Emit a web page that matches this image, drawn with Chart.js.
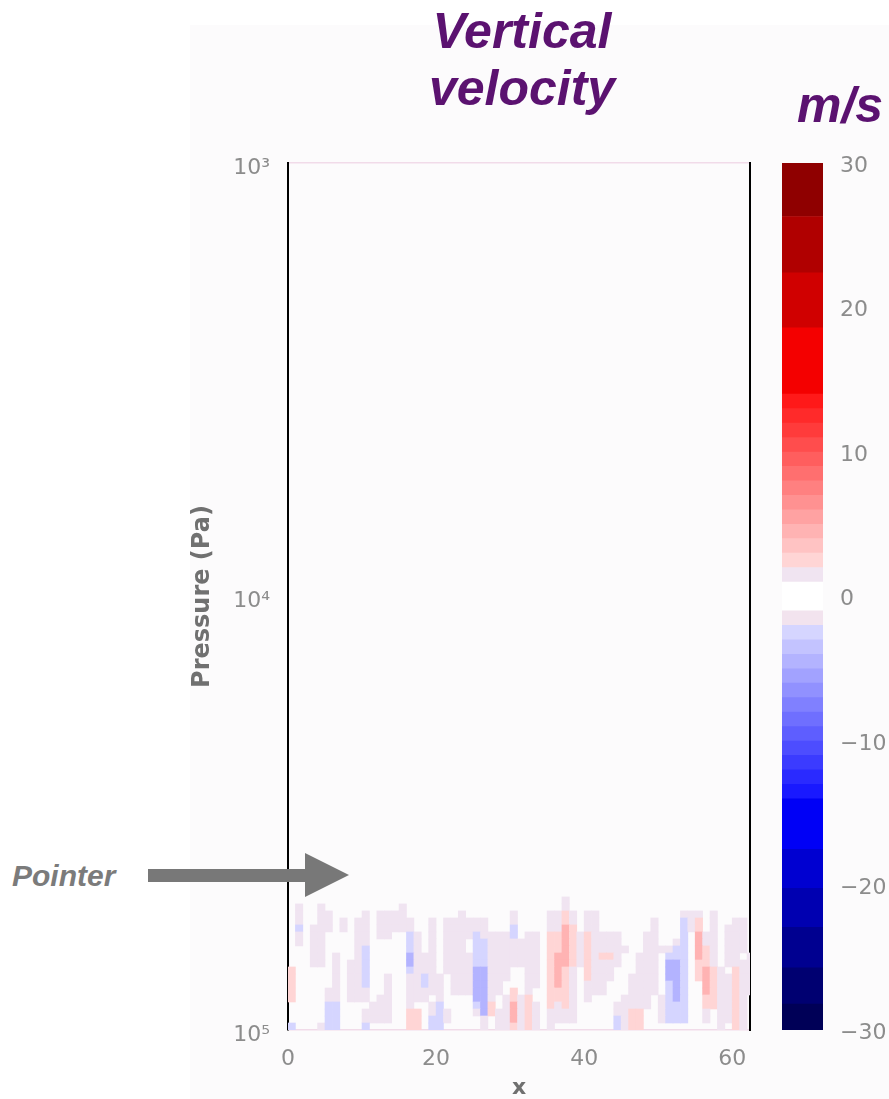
<!DOCTYPE html>
<html>
<head>
<meta charset="utf-8">
<script src="https://cdn.jsdelivr.net/npm/chart.js@4.4.0/dist/chart.umd.min.js"></script>
<style>
  html, body { margin: 0; padding: 0; background: #fff; }
  body { width: 889px; height: 1099px; position: relative; overflow: hidden; font-family: "Liberation Sans", Arial, sans-serif; }
  #figbg { position: absolute; left: 190px; top: 25px; width: 699px; height: 1074px; background: #fcfbfc; }
  .big { position: absolute; color: #5b1270; font-weight: bold; font-style: italic; font-size: 50px; line-height: 57px; white-space: nowrap; }
  #pointer { position: absolute; left: 12px; top: 861px; color: #7b7b7b; font-weight: bold; font-style: italic; font-size: 30px; line-height: 30px; }
  canvas { position: absolute; }
</style>
</head>
<body>
<div id="figbg"></div>
<div class="big" style="left:297px; top:3px; width:450px; text-align:center;">Vertical<br>velocity</div>
<div class="big" style="left:797px; top:77px;">m/s</div>
<canvas id="main" width="600" height="959" style="left:180px; top:140px;"></canvas>
<canvas id="cbar" width="129" height="959" style="left:760px; top:140px;"></canvas>
<div id="pointer">Pointer</div>
<svg style="position:absolute; left:0; top:0;" width="889" height="1099">
  <rect x="148" y="869" width="158" height="13" fill="#787878"/>
  <polygon points="305,853 349,875 305,897" fill="#787878"/>
</svg>
<script>
// x positions of the grid columns (cell centres)
var xCells = [0.5, 1.5, 2.5, 3.5, 4.5, 5.5, 6.5, 7.5, 8.5, 9.5,
  10.5, 11.5, 12.5, 13.5, 14.5, 15.5, 16.5, 17.5, 18.5, 19.5,
  20.5, 21.5, 22.5, 23.5, 24.5, 25.5, 26.5, 27.5, 28.5, 29.5,
  30.5, 31.5, 32.5, 33.5, 34.5, 35.5, 36.5, 37.5, 38.5, 39.5,
  40.5, 41.5, 42.5, 43.5, 44.5, 45.5, 46.5, 47.5, 48.5, 49.5,
  50.5, 51.5, 52.5, 53.5, 54.5, 55.5, 56.5, 57.5, 58.5, 59.5,
  60.5, 61.5, 62.5];

// pressure level edges (Pa), from the surface upwards
var pEdges = [100000, 96350, 92830, 89440, 86170, 83030, 80000, 77080, 74260, 71550,
  68940, 66420, 63990, 61660, 59400, 57230, 55150, 53130, 51190, 49320];

// vertical velocity (m/s), one array per level, bottom level first
var row0 = [-2.5,0,0,0,1.5,-2.5,-2.5,0,0,0, -2.5,0,0,0,0,0,2.5,2.5,0,-2.5, -2.5,0,0,0,0,0,1.5,0,1.5,1.5, 2.5,1.5,2.5,1.5,0,1.5,0,0,0,0, 0,0,0,0,-2.5,1.5,2.5,2.5,0,0, 0,0,0,0,0,0,0,0,1.5,0, 2.5,1.5,0];
var row1 = [0,0,0,0,0,-2.5,-2.5,0,0,0, 1.5,1.5,1.5,1.5,0,0,2.5,2.5,0,-2.5, -2.5,1.5,0,0,0,0,1.5,0,1.5,1.5, 4.5,1.5,2.5,1.5,0,1.5,1.5,1.5,1.5,0, 0,0,0,0,-2.5,1.5,2.5,2.5,0,0, 1.5,-2.5,-2.5,-2.5,0,0,1.5,0,1.5,1.5, 2.5,1.5,0];
var row2 = [0,0,0,0,0,-2.5,-2.5,0,0,0, 1.5,1.5,1.5,1.5,0,0,2.5,2.5,0,1.5, -2.5,1.5,0,0,0,1.5,-4.5,2.5,1.5,1.5, 4.5,1.5,2.5,1.5,0,1.5,1.5,1.5,1.5,0, 0,0,0,0,1.5,1.5,2.5,2.5,0,0, 1.5,-2.5,-2.5,-2.5,0,0,1.5,0,1.5,1.5, 2.5,1.5,0];
var row3 = [0,0,0,0,0,-2.5,-2.5,0,0,0, 0,1.5,1.5,1.5,0,0,1.5,0,0,1.5, -2.5,0,0,0,0,-2.5,-4.5,2.5,0,1.5, 4.5,1.5,2.5,1.5,0,2.5,1.5,2.5,1.5,0, 0,0,0,0,1.5,1.5,1.5,1.5,1.5,0, 1.5,-2.5,-2.5,-2.5,0,0,2.5,2.5,1.5,1.5, 2.5,1.5,0];
var row4 = [2.5,0,0,0,0,1.5,1.5,0,1.5,1.5, 1.5,0,1.5,1.5,0,0,1.5,1.5,1.5,0, 1.5,0,0,0,0,-4.5,-4.5,1.5,0,1.5, 2.5,1.5,2.5,0,0,2.5,2.5,2.5,1.5,0, 1.5,0,0,0,0,1.5,1.5,1.5,1.5,0, 1.5,-2.5,-4.5,-2.5,0,0,2.5,2.5,1.5,1.5, 2.5,1.5,0];
var row5 = [2.5,0,0,0,0,1.5,1.5,0,1.5,1.5, 1.5,0,0,1.5,0,0,1.5,1.5,1.5,1.5, 1.5,0,1.5,1.5,1.5,-4.5,-4.5,1.5,1.5,0, 2.5,0,1.5,0,0,2.5,2.5,2.5,1.5,0, 1.5,1.5,1.5,0,0,0,1.5,1.5,1.5,1.5, 0,-2.5,-4.5,-2.5,0,0,4.5,2.5,1.5,1.5, 2.5,1.5,1.5];
var row6 = [2.5,0,0,0,0,0,1.5,0,1.5,1.5, -2.5,0,0,1.5,0,0,1.5,1.5,-2.5,1.5, 1.5,0,1.5,1.5,1.5,-4.5,-4.5,1.5,1.5,0, 0,0,1.5,1.5,0,2.5,4.5,2.5,1.5,0, 1.5,1.5,1.5,0,0,0,1.5,1.5,1.5,1.5, 0,-2.5,-4.5,-2.5,0,0,4.5,2.5,1.5,1.5, 2.5,1.5,1.5];
var row7 = [2.5,0,0,0,0,0,1.5,0,1.5,1.5, -2.5,0,0,1.5,0,0,1.5,1.5,-2.5,1.5, 1.5,0,1.5,1.5,1.5,-4.5,-4.5,1.5,1.5,1.5, 0,0,1.5,1.5,0,2.5,4.5,2.5,1.5,0, 2.5,1.5,1.5,1.5,0,0,1.5,1.5,1.5,1.5, 0,-4.5,-4.5,-2.5,0,2.5,4.5,2.5,1.5,1.5, 2.5,1.5,1.5];
var row8 = [2.5,0,0,0,0,0,1.5,0,1.5,1.5, -2.5,0,0,0,0,0,-2.5,1.5,1.5,1.5, 0,1.5,1.5,1.5,1.5,-4.5,-4.5,1.5,1.5,1.5, 0,0,1.5,1.5,0,2.5,4.5,2.5,1.5,0, 2.5,1.5,1.5,1.5,0,0,0,1.5,1.5,1.5, 0,-4.5,-4.5,-2.5,0,2.5,4.5,2.5,1.5,0, 2.5,1.5,1.5];
var row9 = [0,0,0,1.5,1.5,0,1.5,0,1.5,1.5, -2.5,0,0,0,0,0,-4.5,1.5,1.5,1.5, 0,1.5,1.5,1.5,1.5,-2.5,-2.5,1.5,1.5,1.5, 1.5,1.5,1.5,1.5,0,2.5,4.5,4.5,2.5,1.5, 2.5,1.5,1.5,1.5,1.5,0,0,1.5,1.5,1.5, 0,-4.5,-4.5,-2.5,0,2.5,2.5,1.5,0,1.5, 1.5,1.5,1.5];
var row10 = [0,0,0,1.5,1.5,0,1.5,0,0,1.5, -2.5,0,0,0,0,0,-4.5,1.5,1.5,1.5, 0,1.5,1.5,1.5,1.5,-2.5,-2.5,1.5,1.5,1.5, 1.5,1.5,1.5,1.5,0,2.5,4.5,4.5,2.5,1.5, 2.5,1.5,2.5,2.5,1.5,0,0,1.5,1.5,1.5, 0,-2.5,-2.5,-2.5,0,4.5,2.5,1.5,0,1.5, 1.5,0,1.5];
var row11 = [0,0,0,1.5,1.5,0,0,0,0,1.5, -2.5,0,0,0,0,0,-2.5,1.5,0,1.5, 0,1.5,1.5,1.5,0,-2.5,-2.5,1.5,1.5,1.5, 1.5,1.5,1.5,1.5,0,2.5,2.5,4.5,2.5,1.5, 2.5,1.5,1.5,1.5,1.5,1.5,0,0,1.5,1.5, 1.5,1.5,-2.5,-2.5,0,4.5,2.5,1.5,0,1.5, 1.5,1.5,0];
var row12 = [0,1.5,0,1.5,1.5,0,0,0,0,1.5, 1.5,0,0,0,0,0,-2.5,1.5,0,1.5, 0,1.5,1.5,1.5,0,-2.5,-2.5,1.5,1.5,1.5, 1.5,1.5,1.5,1.5,0,2.5,2.5,4.5,2.5,1.5, 2.5,1.5,1.5,1.5,1.5,0,0,0,1.5,1.5, 0,0,1.5,-2.5,0,4.5,1.5,1.5,0,1.5, 1.5,1.5,0];
var row13 = [0,1.5,0,1.5,1.5,0,0,0,0,1.5, 1.5,0,1.5,1.5,0,0,-2.5,1.5,0,1.5, 0,1.5,1.5,1.5,1.5,-2.5,1.5,1.5,1.5,1.5, -2.5,0,1.5,1.5,0,2.5,2.5,4.5,2.5,1.5, 2.5,1.5,1.5,1.5,1.5,0,0,0,1.5,1.5, 0,0,0,-2.5,0,4.5,1.5,1.5,0,1.5, 1.5,1.5,0];
var row14 = [0,-2.5,0,1.5,1.5,1.5,0,1.5,0,1.5, 1.5,0,1.5,1.5,1.5,1.5,1.5,0,0,1.5, 0,1.5,1.5,1.5,1.5,1.5,1.5,0,0,0, -2.5,0,0,0,0,1.5,1.5,4.5,2.5,0, 1.5,1.5,0,0,0,0,0,0,0,1.5, 0,0,0,-2.5,1.5,2.5,0,1.5,0,1.5, 1.5,1.5,0];
var row15 = [0,1.5,0,0,1.5,1.5,0,1.5,0,1.5, 1.5,0,1.5,1.5,1.5,1.5,1.5,0,0,1.5, 0,1.5,1.5,1.5,1.5,1.5,1.5,0,0,0, 1.5,0,0,0,0,1.5,1.5,2.5,1.5,0, 1.5,1.5,0,0,0,0,0,0,0,1.5, 0,0,0,-2.5,1.5,2.5,0,1.5,0,0, 1.5,1.5,0];
var row16 = [0,1.5,0,0,1.5,1.5,0,0,0,0, 1.5,0,1.5,1.5,1.5,1.5,0,0,0,0, 0,0,0,1.5,0,0,0,0,0,0, 1.5,0,0,0,0,1.5,1.5,2.5,1.5,0, 1.5,1.5,0,0,0,0,0,0,0,0, 0,0,0,1.5,1.5,1.5,0,1.5,0,0, 0,0,0];
var row17 = [0,1.5,0,0,1.5,0,0,0,0,0, 0,0,0,0,0,1.5,0,0,0,0, 0,0,0,0,0,0,0,0,0,0, 0,0,0,0,0,0,0,1.5,0,0, 0,0,0,0,0,0,0,0,0,0, 0,0,0,0,0,0,0,0,0,0, 0,0,0];
var row18 = [0,0,0,0,0,0,0,0,0,0, 0,0,0,0,0,0,0,0,0,0, 0,0,0,0,0,0,0,0,0,0, 0,0,0,0,0,0,0,1.5,0,0, 0,0,0,0,0,0,0,0,0,0, 0,0,0,0,0,0,0,0,0,0, 0,0,0];

// colour bar levels (m/s) and tick labels
var levels = [-30, -28.2, -25.7, -22.9, -20.2, -17.5, -14, -13, -12, -11, -10, -9, -8, -7, -6, -5, -4, -3, -2, -1,
  1, 2, 3, 4, 5, 6, 7, 8, 9, 10, 11, 12, 13, 14, 18.6, 22.4, 26.3, 30];
var cbTicks = [-30, -20, -10, 0, 10, 20, 30];
var xTicks = [0, 20, 40, 60];
var yTicks = [1000, 10000, 100000];
var yTickLabels = ['10\u00b3', '10\u2074', '10\u2075'];

var rows = [row0, row1, row2, row3, row4, row5, row6, row7, row8, row9,
  row10, row11, row12, row13, row14, row15, row16, row17, row18];

var tickFont = { family: 'DejaVu Sans', size: 22 };
var tickColor = '#8c8c8c';

// seismic-like colour for a band, given its middle value
function bandColor(mid) {
  var a = Math.abs(mid);
  if (a < 1) return '#ffffff';
  if (a < 2) return mid > 0 ? '#f0e4f1' : '#f2e3ee';
  var c;
  if (a <= 15) {
    var g = Math.round(255 * (1 - a / 15));
    c = mid > 0 ? [255, g, g] : [g, g, 255];
  } else if (mid > 0) {
    c = [Math.round(255 * (1 - (a - 15) / 30)), 0, 0];
  } else {
    c = [0, 0, Math.round(255 * (1 - 0.7 * (a - 15) / 15))];
  }
  return 'rgb(' + c.join(',') + ')';
}

function cellColor(v) {
  for (var i = 0; i < levels.length - 1; i++) {
    if (v >= levels[i] && v < levels[i + 1]) return bandColor((levels[i] + levels[i + 1]) / 2);
  }
  return bandColor(v);
}

// one floating-bar dataset per pressure level
var datasets = rows.map(function(row, k) {
  var pts = [];
  var cols = [];
  row.forEach(function(v, i) {
    if (v === 0) return;
    pts.push({ x: xCells[i], y: [pEdges[k], pEdges[k + 1]] });
    cols.push(cellColor(v));
  });
  return {
    data: pts,
    backgroundColor: cols,
    borderWidth: 0,
    grouped: false,
    barPercentage: 1,
    categoryPercentage: 1
  };
});

new Chart(document.getElementById('main'), {
  type: 'bar',
  data: { datasets: datasets },
  options: {
    responsive: false,
    animation: false,
    devicePixelRatio: 1,
    layout: { padding: { left: 0, right: 30, top: 23, bottom: 0 } },
    plugins: { legend: { display: false }, tooltip: { enabled: false } },
    scales: {
      x: {
        type: 'linear',
        min: 0,
        max: 62.4,
        offset: false,
        grid: { display: false, offset: false },
        border: { display: false },
        afterBuildTicks: function(s) { s.ticks = xTicks.map(function(v) { return { value: v }; }); },
        afterFit: function(s) { s.height = 69; },
        ticks: { font: tickFont, color: tickColor, padding: 8, maxRotation: 0 },
        title: { display: true, text: 'x', color: '#707070', font: { family: 'DejaVu Sans', size: 22, weight: 'bold', lineHeight: 1 }, padding: { top: 0, bottom: 0 } }
      },
      y: {
        type: 'logarithmic',
        min: 1000,
        max: 100000,
        reverse: true,
        grid: {
          drawTicks: false,
          lineWidth: 1.5,
          color: function(ctx) {
            if (ctx.tick && (ctx.tick.value === 1000 || ctx.tick.value === 100000)) return '#f1dbe9';
            return 'rgba(0,0,0,0)';
          }
        },
        border: { display: true, color: '#000', width: 2 },
        afterBuildTicks: function(s) { s.ticks = yTicks.map(function(v) { return { value: v }; }); },
        afterFit: function(s) { s.width = 108; s.paddingTop = 0; s.paddingBottom = 0; },
        ticks: {
          font: tickFont,
          color: tickColor,
          padding: 18,
          labelOffset: 5,
          callback: function(v, i) { return yTickLabels[i]; }
        },
        title: { display: true, text: 'Pressure (Pa)', color: '#707070', font: { family: 'DejaVu Sans', size: 24, weight: 'bold' }, padding: { top: 8, bottom: 0 } }
      },
      y2: {
        type: 'linear',
        position: 'right',
        grid: { display: false },
        ticks: { display: false },
        border: { display: true, color: '#000', width: 2 },
        afterFit: function(s) { s.width = 0; s.paddingTop = 0; s.paddingBottom = 0; }
      }
    }
  }
});

// colour bar: one floating bar per level band
var cbSets = [];
for (var i = 0; i < levels.length - 1; i++) {
  cbSets.push({
    data: [[levels[i], levels[i + 1]]],
    backgroundColor: bandColor((levels[i] + levels[i + 1]) / 2),
    borderWidth: 0,
    grouped: false,
    barPercentage: 1,
    categoryPercentage: 1
  });
}

new Chart(document.getElementById('cbar'), {
  type: 'bar',
  data: { labels: [''], datasets: cbSets },
  options: {
    responsive: false,
    animation: false,
    devicePixelRatio: 1,
    layout: { padding: { left: 22, right: 0, top: 23, bottom: 69 } },
    plugins: { legend: { display: false }, tooltip: { enabled: false } },
    scales: {
      x: { display: false },
      y: {
        position: 'right',
        min: -30,
        max: 30,
        grid: { display: false },
        border: { display: false },
        afterBuildTicks: function(s) { s.ticks = cbTicks.map(function(v) { return { value: v }; }); },
        afterFit: function(s) { s.width = 66; s.paddingTop = 0; s.paddingBottom = 0; },
        ticks: {
          font: tickFont,
          color: tickColor,
          padding: 9,
          labelOffset: 3,
          callback: function(v) { return v < 0 ? '\u2212' + Math.abs(v) : String(v); }
        }
      }
    }
  }
});
</script>
</body>
</html>
